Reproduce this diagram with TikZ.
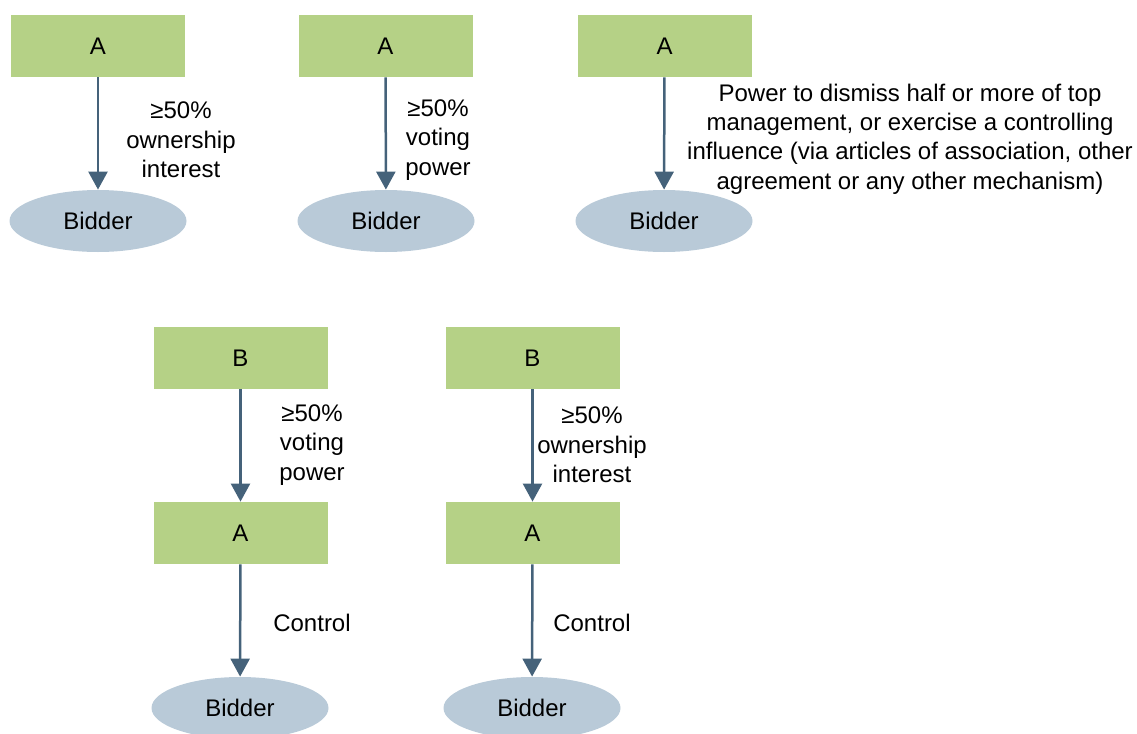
\documentclass[tikz,border=0pt]{standalone}
\usepackage{fontspec}
\setmainfont{Liberation Sans}
\usetikzlibrary{shapes.geometric, arrows.meta}
\definecolor{EntityGreen}{HTML}{B5D186}
\definecolor{BidderBlue}{HTML}{B9CAD8}
\definecolor{LinkSlate}{HTML}{45627A}

\tikzset{
  entity/.style={rectangle, fill=EntityGreen, minimum width=87pt, minimum height=31pt, inner sep=0pt},
  bidder/.style={ellipse, fill=BidderBlue, minimum width=88.5pt, minimum height=31pt, inner sep=0pt},
  link/.style={-{Triangle[width=9.5pt,length=9pt]}, draw=LinkSlate, fill=LinkSlate, line width=1.25pt},
  note/.style={align=center, inner sep=0pt}
}

\begin{document}
\begin{tikzpicture}[x=0.5pt, y=-0.5pt, font=\fontsize{12}{14.7}\selectfont]
  \useasboundingbox (0,0) rectangle (1137,734);

  % Direct ownership
  \node[entity] (a1) at (98,46) {A};
  \node[bidder] (bid1) at (98,221) {Bidder};
  \draw[link] (a1) -- (bid1);
  \node[note] (n1) at (181,140) {≥50\%\\ownership\\interest};

  % Voting power
  \node[entity] (a2) at (385.5,46) {A};
  \node[bidder] (bid2) at (386,221) {Bidder};
  \draw[link] (a2) -- (bid2);
  \node[note] (n2) at (438,140) {≥50\%\\voting\\power};

  % Controlling influence
  \node[entity] (a3) at (664.5,46) {A};
  \node[bidder] (bid3) at (664,221) {Bidder};
  \draw[link] (a3) -- (bid3);
  \node[note] (n3) at (910,139) {Power to dismiss half or more of top\\management, or exercise a controlling\\influence (via articles of association, other\\agreement or any other mechanism)};

  % Indirect via voting power
  \node[entity] (b4) at (240.5,358) {B};
  \node[entity] (a4) at (240.5,533) {A};
  \node[bidder] (bid4) at (240,708) {Bidder};
  \draw[link] (b4) -- (a4);
  \draw[link] (a4) -- (bid4);
  \node[note] (n4) at (312,445) {≥50\%\\voting\\power};
  \node[note] (c4) at (312,623) {Control};

  % Indirect via ownership interest
  \node[entity] (b5) at (532.5,358) {B};
  \node[entity] (a5) at (532.5,533) {A};
  \node[bidder] (bid5) at (532,708) {Bidder};
  \draw[link] (b5) -- (a5);
  \draw[link] (a5) -- (bid5);
  \node[note] (n5) at (592,445) {≥50\%\\ownership\\interest};
  \node[note] (c5) at (592,623) {Control};
\end{tikzpicture}
\end{document}
